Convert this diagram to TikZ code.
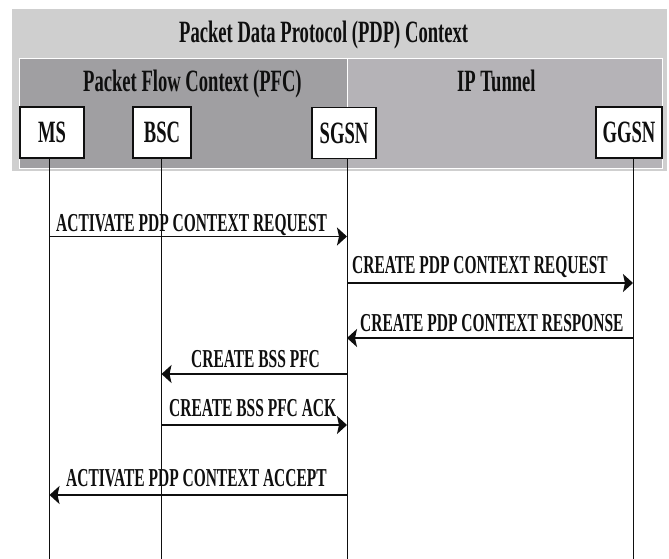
\documentclass[tikz,border=0pt]{standalone}
\usepackage{fontspec}
\setmainfont{Liberation Serif}
\newfontfamily\cond[FakeStretch=0.6]{Liberation Serif}
\usetikzlibrary{arrows.meta}
\definecolor{outergray}{RGB}{207,207,207}
\definecolor{pfcgray}{RGB}{160,159,162}
\definecolor{ipgray}{RGB}{181,179,183}
\definecolor{inkc}{RGB}{15,15,15}
\tikzset{
  hdr/.style={font=\cond\bfseries\fontsize{31}{32}\selectfont, text=inkc, inner sep=0pt, anchor=base west},
  msg/.style={font=\cond\bfseries\fontsize{25.8}{27}\selectfont, text=inkc, inner sep=0pt, anchor=base west},
  entity/.style={draw=inkc, line width=1.6pt, fill=white, minimum height=51pt, inner sep=0pt,
    font=\cond\bfseries\fontsize{31}{32}\selectfont, text=inkc},
  lifeline/.style={draw=inkc, line width=1pt},
  msgarrow/.style={draw=inkc, line width=1.8pt, -{Stealth[length=10pt,width=18pt,inset=2pt]}},
}
\begin{document}
\begin{tikzpicture}[x=1pt,y=-1pt]
\useasboundingbox (0,0) rectangle (669,559);
% context regions
\fill[outergray] (12,9) rectangle (667,171);
\draw[fill=pfcgray, draw=white, line width=0.8pt] (19,58) rectangle (347,168);
\draw[fill=ipgray, draw=white, line width=0.8pt] (347,58) rectangle (662,168);
\node[hdr] (pdp) at (179,43) {Packet Data Protocol (PDP) Context};
\node[hdr] (pfc) at (83,92) {Packet Flow Context (PFC)};
\node[hdr] (ipt) at (457,92) {IP Tunnel};
% entities
\node[entity, minimum width=64pt] (ms) at (52,132.5) {MS};
\node[entity, minimum width=58pt] (bsc) at (162,132.5) {BSC};
\node[entity, minimum width=64pt] (sgsn) at (344,133) {SGSN};
\node[entity, minimum width=66pt] (ggsn) at (629,132.5) {GGSN};
% lifelines
\coordinate (msT) at (49.5,158);   \coordinate (msB) at (49.5,559);
\coordinate (bscT) at (161.5,158); \coordinate (bscB) at (161.5,559);
\coordinate (sgT) at (347,158);    \coordinate (sgB) at (347,559);
\coordinate (ggT) at (633,158);    \coordinate (ggB) at (633,559);
\draw[lifeline] (msT) -- (msB);
\draw[lifeline] (bscT) -- (bscB);
\draw[lifeline] (sgT) -- (sgB);
\draw[lifeline] (ggT) -- (ggB);
% message end points
\coordinate (m1a) at (49.5,236.5); \coordinate (m1b) at (347,236.5);
\coordinate (m2a) at (347,283);    \coordinate (m2b) at (633,283);
\coordinate (m3a) at (633,338);    \coordinate (m3b) at (347,338);
\coordinate (m4a) at (347,374);    \coordinate (m4b) at (161.5,374);
\coordinate (m5a) at (161.5,425);  \coordinate (m5b) at (347,425);
\coordinate (m6a) at (347,495);    \coordinate (m6b) at (49.5,495);
\draw[msgarrow] (m1a) -- (m1b);
\draw[msgarrow] (m2a) -- (m2b);
\draw[msgarrow] (m3a) -- (m3b);
\draw[msgarrow] (m4a) -- (m4b);
\draw[msgarrow] (m5a) -- (m5b);
\draw[msgarrow] (m6a) -- (m6b);
% labels
\node[msg] (l1) at (56,231) {ACTIVATE PDP CONTEXT REQUEST};
\node[msg] (l2) at (352,273) {CREATE PDP CONTEXT REQUEST};
\node[msg] (l3) at (360,331) {CREATE PDP CONTEXT RESPONSE};
\node[msg] (l4) at (191,367) {CREATE BSS PFC};
\node[msg] (l5) at (169,416) {CREATE BSS PFC ACK};
\node[msg] (l6) at (66,486) {ACTIVATE PDP CONTEXT ACCEPT};
\end{tikzpicture}
\end{document}
